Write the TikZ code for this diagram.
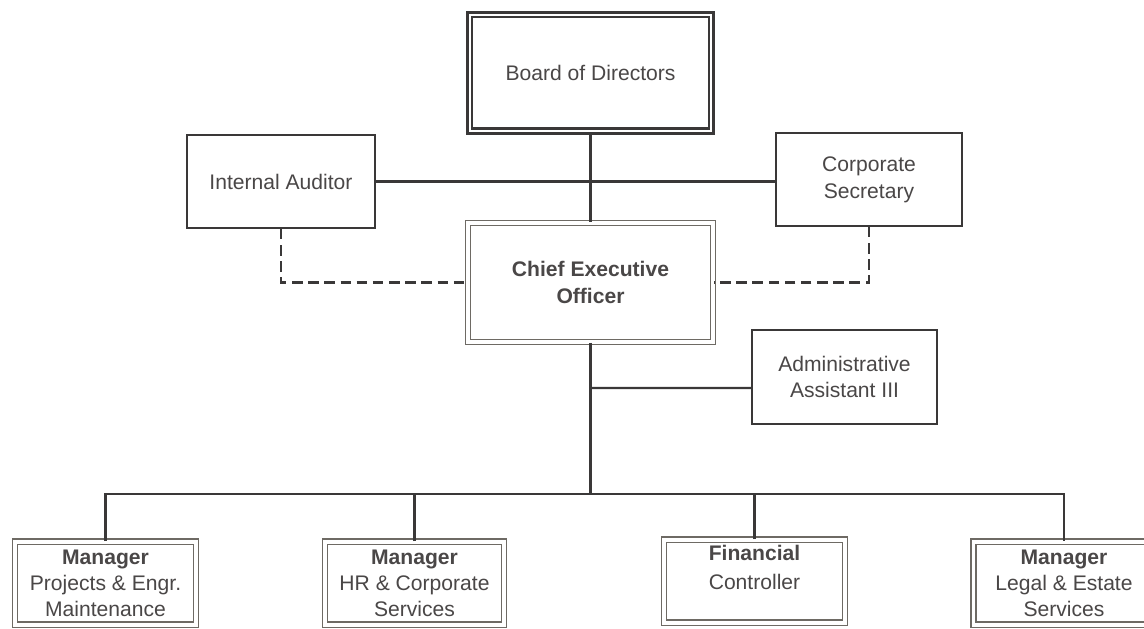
\documentclass[tikz,border=0pt]{standalone}
\usepackage{fontspec}
\setmainfont{Liberation Sans}
\usetikzlibrary{positioning}

\definecolor{ink}{HTML}{4A4747}
\definecolor{rim}{HTML}{3A3838}
\definecolor{rimlight}{HTML}{6E6A64}

\tikzset{
    box/.style={draw=rim, line width=1.2pt, fill=white, inner sep=0pt, align=center,
        text=ink, font=\fontsize{15}{19}\selectfont},
    dbox/.style={box, double=white, double distance=1.8pt, line width=1.6pt},
    gbox/.style={box, draw=rimlight, double=white, double distance=2.4pt, line width=1.2pt},
    mbox/.style={gbox, minimum width=4.525cm, minimum height=2.075cm,
        font=\fontsize{15}{18.5}\selectfont},
    link/.style={draw=rim, line width=1.6pt},
    dotlink/.style={link, dash pattern=on 7.5pt off 4pt}
}

\begin{document}
\begin{tikzpicture}[x=0.025cm,y=-0.025cm]
    \useasboundingbox[fill=white] (0,0) rectangle (1144,629);
    \clip (0,0) rectangle (1144,629);

    \node[dbox, minimum width=6.025cm, minimum height=2.9cm] (bod) at (590.5,73) {Board of Directors};
    \node[box, minimum width=4.7cm, minimum height=2.325cm] (ia) at (281,181.5) {Internal Auditor};
    \node[box, minimum width=4.65cm, minimum height=2.325cm] (cs) at (869,179.5) {Corporate\\Secretary};
    \node[gbox, minimum width=6.125cm, minimum height=2.975cm] (ceo) at (590.5,282.5) {\textbf{Chief Executive}\\\textbf{Officer}};
    \node[box, minimum width=4.625cm, minimum height=2.35cm] (adm) at (844.5,377) {Administrative\\Assistant III};

    \node[mbox, anchor=north] (mpe) at (105.5,541) {\textbf{Manager}\\Projects \& Engr.\\Maintenance};
    \node[mbox, anchor=north, minimum width=4.475cm] (mhr) at (414.5,541) {\textbf{Manager}\\HR \& Corporate\\Services};
    \node[mbox, anchor=north, font=\fontsize{15}{20.5}\selectfont] (fc) at (754.5,539) {\textbf{Financial}\\Controller\\[-7pt]\strut};
    \node[mbox, anchor=north] (mlg) at (1064,541) {\textbf{Manager}\\Legal \& Estate\\Services};

    \coordinate (bus) at (590.5,494);

    \draw[link] (bod) -- (ceo);
    \draw[link] (ia.east) -- (ia.east -| cs.west);
    \draw[dotlink] (ia.south) |- (ceo.west);
    \draw[dotlink] (cs.south) |- (ceo.east);
    \draw[link] (ceo.south) -- (ceo.south |- bus);
    \draw[link] (ceo.south |- 0,388) -- ([yshift=-0.275cm]adm.west);
    \draw[link] (mpe.north) |- (bus) -| (mlg.north);
    \draw[link] (mhr.north) -- (mhr.north |- bus);
    \draw[link] (fc.north) -- (fc.north |- bus);
\end{tikzpicture}
\end{document}
